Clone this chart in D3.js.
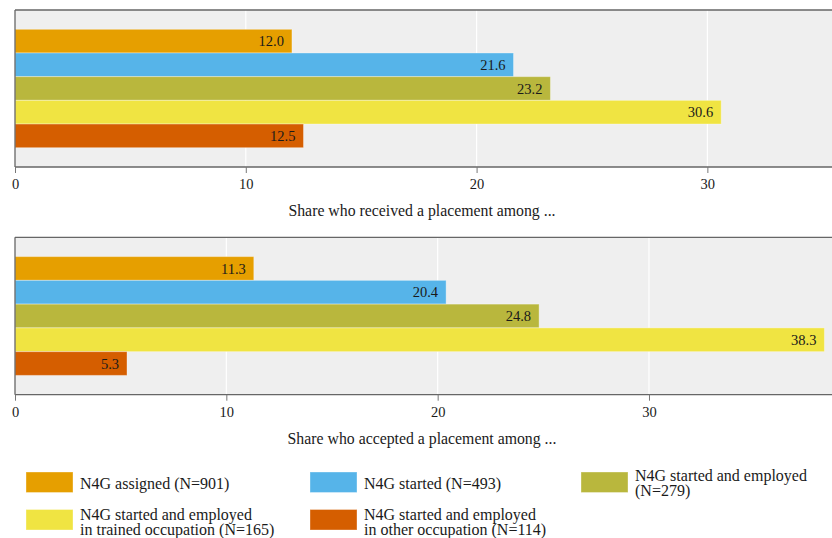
<!DOCTYPE html>
<html><head><meta charset="utf-8">
<script src="https://cdn.jsdelivr.net/npm/d3@7"></script>
<style>body{margin:0;background:#fff;} svg{display:block;} svg text{font-family:"Liberation Serif","Times New Roman",serif !important;}</style>
</head><body>
<svg id="c" width="832" height="538"></svg>
<script>
const categories = ["N4G assigned (N=901)","N4G started (N=493)","N4G started and employed (N=279)","N4G started and employed in trained occupation (N=165)","N4G started and employed in other occupation (N=114)"];
const legendLines = [["N4G assigned (N=901)"],["N4G started (N=493)"],["N4G started and employed","(N=279)"],["N4G started and employed","in trained occupation (N=165)"],["N4G started and employed","in other occupation (N=114)"]];
const colors = ["#E69F00","#56B4E9","#B9B73D","#F0E442","#D55E00"];
const receivedValues = [12.0, 21.6, 23.2, 30.6, 12.5];
const acceptedValues = [11.3, 20.4, 24.8, 38.3, 5.3];
const tickValues = [0, 10, 20, 30];
const titles = ["Share who received a placement among ...", "Share who accepted a placement among ..."];

const FONT = "Liberation Serif, Times New Roman, serif";
const svg = d3.select("#c");
const panels = [
  {values: receivedValues, title: titles[0], top: 10, bottom: 167, xmax: 35.4},
  {values: acceptedValues, title: titles[1], top: 237.3, bottom: 394.7, xmax: 38.66}
];
const left = 15, right = 832;

panels.forEach(p => {
  const g = svg.append("g");
  const x = d3.scaleLinear().domain([0, p.xmax]).range([left, right]);
  const y = d3.scaleBand().domain(categories).range([p.top + 19.3, p.bottom - 19.3]).padding(0);
  g.append("rect").attr("x", left).attr("y", p.top).attr("width", right - left + 5).attr("height", p.bottom - p.top).attr("fill", "#EFEFEF");
  g.selectAll(".grid").data(tickValues.slice(1)).join("line")
    .attr("x1", d => x(d)).attr("x2", d => x(d)).attr("y1", p.top).attr("y2", p.bottom)
    .attr("stroke", "#fff").attr("stroke-width", 1.2);
  g.selectAll(".bar").data(p.values).join("rect")
    .attr("x", x(0)).attr("y", (d, i) => y(categories[i]))
    .attr("width", d => x(d) - x(0)).attr("height", y.bandwidth())
    .attr("fill", (d, i) => colors[i])
    .attr("stroke", "rgba(255,255,255,0.35)").attr("stroke-width", 1);
  g.selectAll(".val").data(p.values).join("text")
    .attr("x", d => x(d) - 8).attr("y", (d, i) => y(categories[i]) + y.bandwidth() / 2)
    .attr("dy", "0.35em").attr("text-anchor", "end").attr("font-size", 14.5).attr("fill", "#1a1a1a")
    .attr("font-family", FONT)
    .text(d => d.toFixed(1));
  g.append("line").attr("x1", left).attr("x2", right + 5).attr("y1", p.top).attr("y2", p.top).attr("stroke", "#666").attr("stroke-width", 1.3);
  g.append("line").attr("x1", left).attr("x2", left).attr("y1", p.top).attr("y2", p.bottom).attr("stroke", "#666").attr("stroke-width", 1.3);
  const axis = d3.axisBottom(x).tickValues(tickValues).tickSize(6).tickPadding(6).tickFormat(d3.format("d"));
  const ag = g.append("g").attr("transform", `translate(0,${p.bottom})`).call(axis).attr("font-family", FONT);
  ag.select(".domain").attr("stroke", "#666").attr("stroke-width", 1.3).attr("d", `M${left},0H${right + 5}`);
  ag.selectAll(".tick line").attr("stroke", "#777");
  ag.selectAll(".tick text").attr("font-size", 14.5).attr("fill", "#1a1a1a").attr("font-family", FONT);
  g.append("text").attr("x", 422).attr("y", p.bottom + 49).attr("text-anchor", "middle")
    .attr("font-size", 15.8).attr("fill", "#1a1a1a").attr("font-family", FONT).text(p.title);
});

// legend: [swatch x, swatch y, first text baseline]
const legendPos = [[26, 472, 488.5], [310, 472, 488.5], [581, 472, 480.7], [26, 509.5, 520], [310, 509.5, 520]];
const lg = svg.append("g");
legendLines.forEach((lines, i) => {
  const [lx, ly, tb] = legendPos[i];
  lg.append("rect").attr("x", lx).attr("y", ly).attr("width", 47).attr("height", 20.5)
    .attr("fill", colors[i]).attr("stroke", "rgba(255,255,255,0.35)");
  const t = lg.append("text").attr("x", lx + 54).attr("font-size", 16).attr("fill", "#1a1a1a").attr("font-family", FONT);
  lines.forEach((s, j) => t.append("tspan").attr("x", lx + 54).attr("y", tb + j * 15).text(s));
});
</script>
</body></html>
